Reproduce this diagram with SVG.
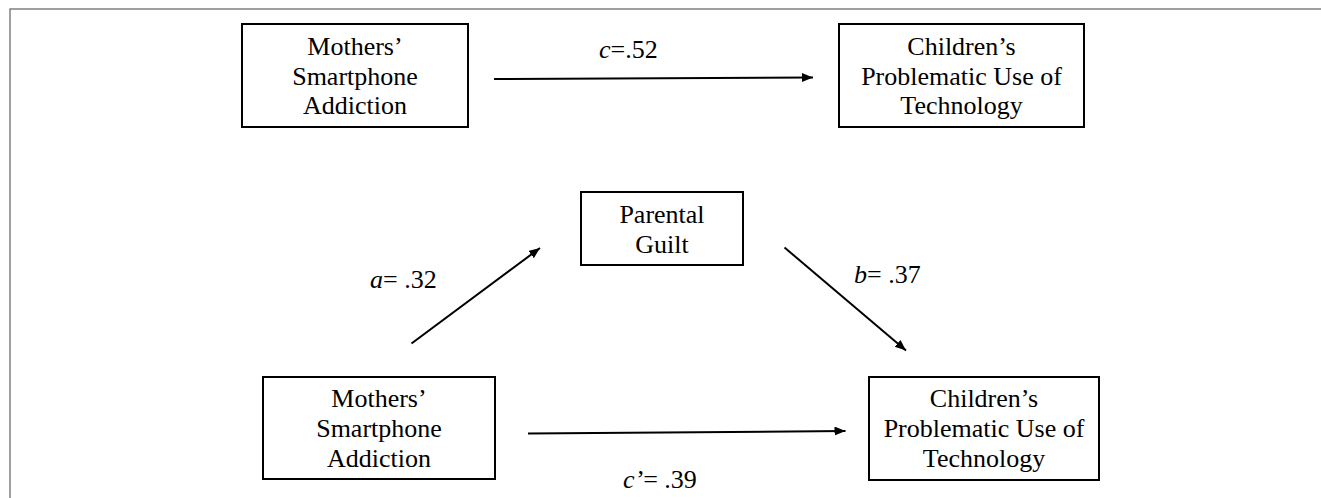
<svg xmlns="http://www.w3.org/2000/svg" width="1321" height="498" viewBox="0 0 1321 498">
  <style>
    .box { fill: #ffffff; stroke: #000000; stroke-width: 2; }
    .lbl { font-family: "Liberation Serif", "Times New Roman", serif; font-size: 26px; fill: #000000; text-anchor: middle; }
    .coef { font-family: "Liberation Serif", "Times New Roman", serif; font-size: 26px; fill: #000000; }
    .edge { stroke: #000000; stroke-width: 2; fill: none; marker-end: url(#arrow); }
    .frame { stroke: #808080; stroke-width: 1.5; fill: none; }
  </style>
  <defs>
    <marker id="arrow" markerUnits="userSpaceOnUse" markerWidth="12" markerHeight="10" refX="11" refY="4.5" orient="auto">
      <path d="M0,0 L11,4.5 L0,9 Z" fill="#000000"/>
    </marker>
  </defs>
  <rect width="1321" height="498" fill="#ffffff"/>
  <path class="frame" d="M10,498 V9 H1321"/>

  <g id="connectors">
    <line class="edge" x1="494" y1="79" x2="813" y2="77.5"/>
    <line class="edge" x1="411.5" y1="343.5" x2="540" y2="248"/>
    <line class="edge" x1="784.5" y1="247.5" x2="906" y2="350.5"/>
    <line class="edge" x1="528" y1="433.5" x2="845.5" y2="431"/>
    <text class="coef" x="599" y="58"><tspan font-style="italic">c</tspan>=.52</text>
    <text class="coef" x="370" y="288"><tspan font-style="italic">a</tspan>= .32</text>
    <text class="coef" x="854" y="283"><tspan font-style="italic">b</tspan>= .37</text>
    <text class="coef" x="623" y="488"><tspan font-style="italic">c’</tspan>= .39</text>
  </g>

  <g id="node-mothers-top">
    <rect class="box" x="242" y="24" width="226" height="103"/>
    <text class="lbl" x="355" y="55">Mothers’</text>
    <text class="lbl" x="355" y="85">Smartphone</text>
    <text class="lbl" x="355" y="114">Addiction</text>
  </g>

  <g id="node-children-top">
    <rect class="box" x="839" y="24" width="245" height="103"/>
    <text class="lbl" x="961.5" y="55">Children’s</text>
    <text class="lbl" x="961.5" y="85">Problematic Use of</text>
    <text class="lbl" x="961.5" y="114">Technology</text>
  </g>

  <g id="node-guilt">
    <rect class="box" x="581" y="192" width="162" height="73"/>
    <text class="lbl" x="662" y="223">Parental</text>
    <text class="lbl" x="662" y="253">Guilt</text>
  </g>

  <g id="node-mothers-bottom">
    <rect class="box" x="263" y="377" width="232" height="102"/>
    <text class="lbl" x="379" y="407">Mothers’</text>
    <text class="lbl" x="379" y="437">Smartphone</text>
    <text class="lbl" x="379" y="467">Addiction</text>
  </g>

  <g id="node-children-bottom">
    <rect class="box" x="869" y="377" width="230" height="103"/>
    <text class="lbl" x="984" y="407">Children’s</text>
    <text class="lbl" x="984" y="437">Problematic Use of</text>
    <text class="lbl" x="984" y="467">Technology</text>
  </g>
</svg>
